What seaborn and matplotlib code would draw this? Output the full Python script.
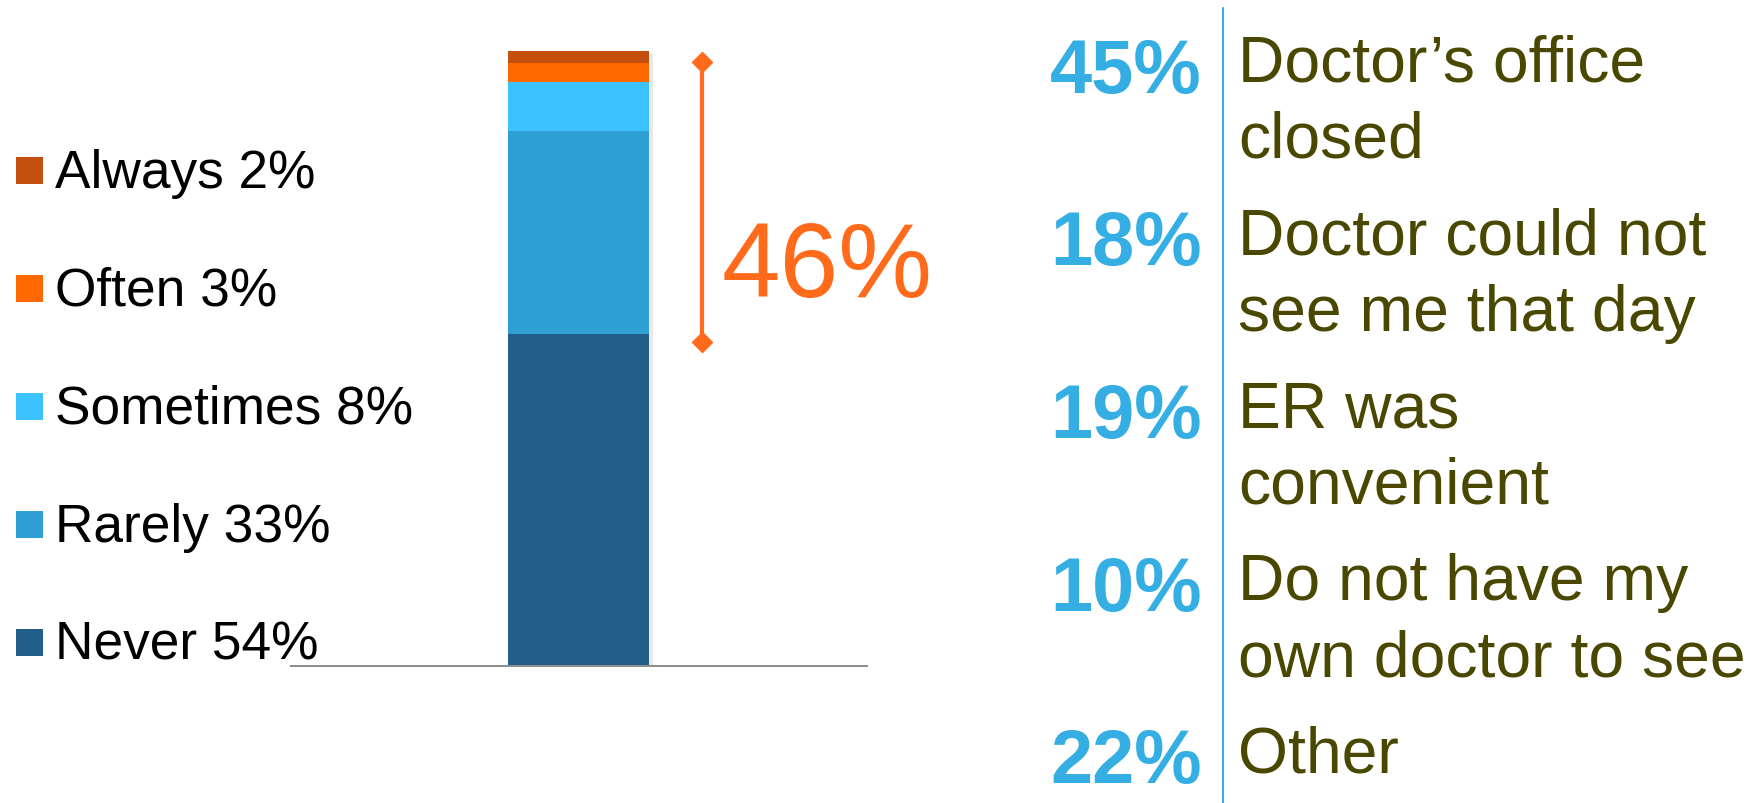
import matplotlib
matplotlib.use("Agg")
import matplotlib.pyplot as plt
import seaborn as sns
import numpy as np
import matplotlib.patheffects as pe
from matplotlib.lines import Line2D
from matplotlib.patches import Rectangle

# ---------------- data ----------------
categories = ["Never", "Rarely", "Sometimes", "Often", "Always"]
values = [54, 33, 8, 3, 2]
bar_colors = ["#215F8A", "#2EA0D5", "#3CC3FF", "#FF6900", "#C4500F"]
highlight_label = "46%"

reason_pcts = [45, 18, 19, 10, 22]
reason_labels = [
    ["Doctor’s office", "closed"],
    ["Doctor could not", "see me that day"],
    ["ER was", "convenient"],
    ["Do not have my", "own doctor to see"],
    ["Other"],
]

# ---------------- style ----------------
sns.set_theme(style="white")
plt.rcParams["font.family"] = ["Liberation Sans", "DejaVu Sans"]

ORANGE = "#FF6B1A"
PCT_BLUE = "#35AEE4"
LABEL_OLIVE = "#4A4800"
GRAY = "#8E8E8E"

W, H = 1758, 804
def fx(x):
    return x / W
def fy(y):
    return 1 - y / H

fig = plt.figure(figsize=(W / 100, H / 100), dpi=100)
fig.patch.set_facecolor("white")

# bar axes: pixel extents of the baseline and the 0..100 scale
ax_l, ax_r, ax_b, ax_t = 291, 866.5, 666.7, 52
ax = fig.add_axes([fx(ax_l), fy(ax_b), (ax_r - ax_l) / W, (ax_b - ax_t) / H])
ax.set_facecolor("none")

cum = np.cumsum(values)
for i in reversed(range(len(values))):
    sns.barplot(x=["All"], y=[cum[i]], color=bar_colors[i], saturation=1,
                width=0.8, linewidth=0, ax=ax)

ax.patches[0].set_path_effects([
    pe.SimplePatchShadow(offset=(3, -2), alpha=0.18, shadow_rgbFace="gray"),
    pe.Normal(),
])

# x-limits so the bar sits where it does in the reference
bar_px_w = 141
L = 0.8 / (bar_px_w / (ax_r - ax_l))
x_left = -(578.5 - ax_l) / (ax_r - ax_l) * L
ax.set_xlim(x_left, x_left + L)
ax.set_ylim(0, 100)
ax.set_xticks([])
ax.set_yticks([])
ax.set_xlabel("")
ax.set_ylabel("")
for s in ["top", "left", "right"]:
    ax.spines[s].set_visible(False)
ax.spines["bottom"].set_color(GRAY)
ax.spines["bottom"].set_linewidth(1.45)

# bracket for the 46% (Rarely..Always)
xb = x_left + (702 - ax_l) / (ax_r - ax_l) * L
lo = values[0] - 1.3
hi = cum[-1] - 1.8
ax.plot([xb, xb], [lo, hi], color=ORANGE, lw=3, marker="D", markersize=10.5,
        clip_on=False, solid_capstyle="butt")
fig.text(fx(722), fy(297), highlight_label, color=ORANGE, fontsize=76,
         ha="left", va="baseline")

# legend (top to bottom: Always ... Never)
for j, idx in enumerate(reversed(range(len(categories)))):
    cy = 171 + 118 * j
    fig.add_artist(Rectangle((fx(16), fy(cy + 13.5)), 27 / W, 27 / H,
                             transform=fig.transFigure,
                             facecolor=bar_colors[idx], edgecolor="none"))
    fig.text(fx(55), fy(cy + 17), f"{categories[idx]} {values[idx]}%",
             color="black", fontsize=38.3, ha="left", va="baseline")

# right panel
fig.add_artist(Line2D([fx(1222.7), fx(1222.7)], [fy(9), fy(804)],
                      transform=fig.transFigure, color=PCT_BLUE, lw=1.5))
for i, (p, lines) in enumerate(zip(reason_pcts, reason_labels)):
    base_p = 93 + 172.5 * i
    fig.text(fx(1202), fy(base_p), f"{p}%", color=PCT_BLUE, fontsize=54.5,
             fontweight="bold", ha="right", va="baseline")
    base_l = 82 + 172.75 * i
    for k, line in enumerate(lines):
        fig.text(fx(1238), fy(base_l + 76 * k), line, color=LABEL_OLIVE,
                 fontsize=46.3, ha="left", va="baseline")

fig.savefig("out.png", dpi=100, facecolor="white")
